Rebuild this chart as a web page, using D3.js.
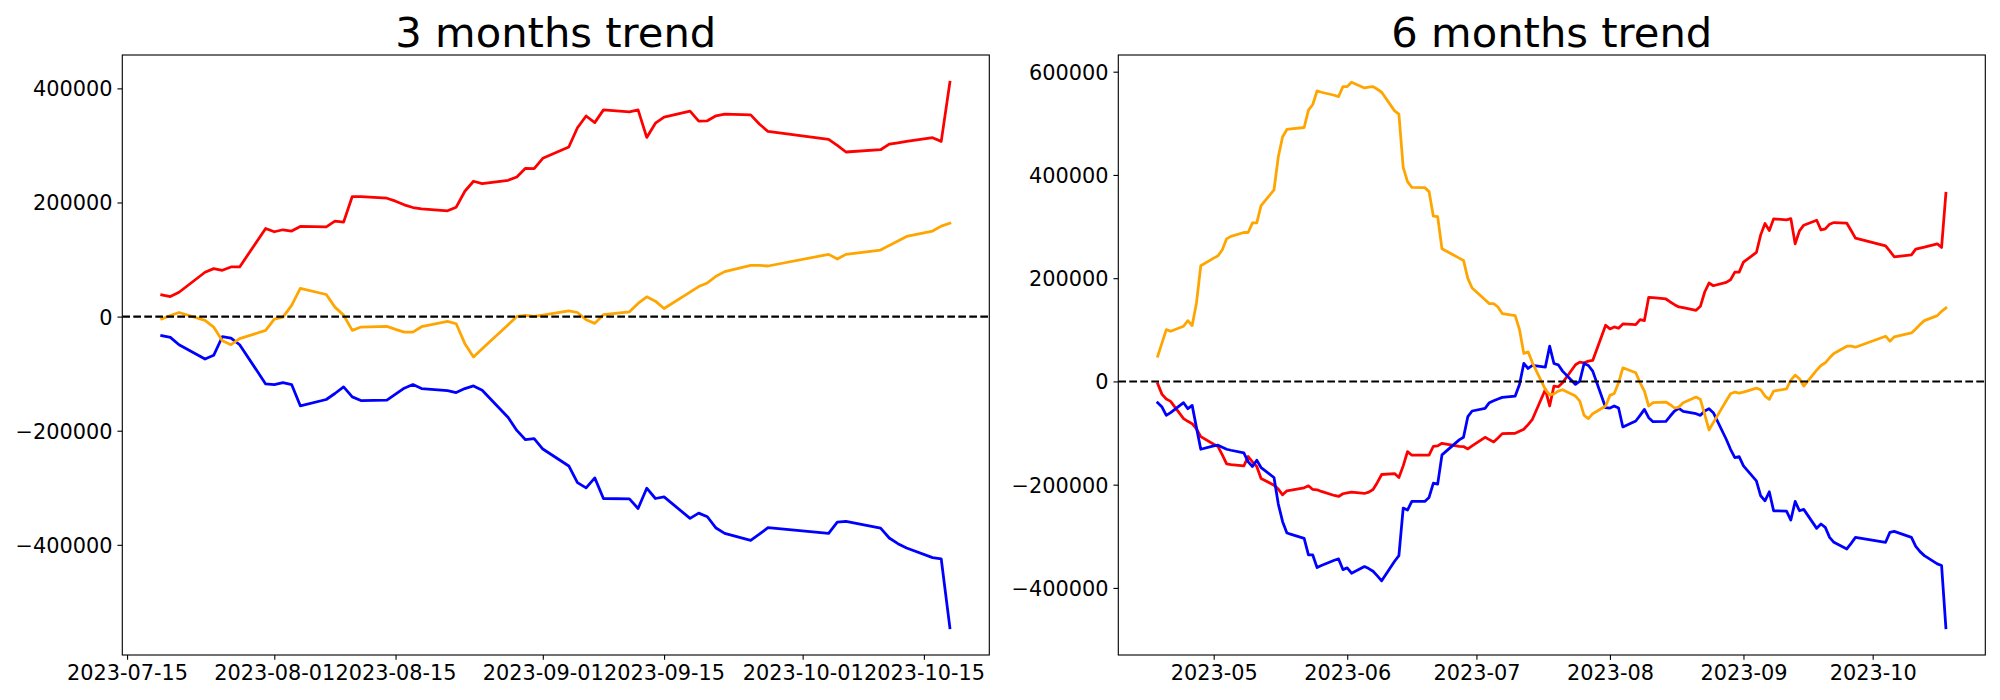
<!DOCTYPE html>
<html><head><meta charset="utf-8">
<script src="https://cdn.jsdelivr.net/npm/d3@7"></script>
<style>
body{margin:0;background:#fff}
svg{display:block;background:#fff}
text{font-family:"DejaVu Sans",sans-serif;fill:#000}
</style>
</head><body>
<svg id="chart" width="2000" height="700"></svg>
<script>
// ---------- 3 months panel ----------
const dates3 = ["2023-07-19","2023-07-20","2023-07-21","2023-07-24","2023-07-25","2023-07-26","2023-07-27","2023-07-28","2023-07-31","2023-08-01","2023-08-02","2023-08-03","2023-08-04","2023-08-07","2023-08-08","2023-08-09","2023-08-10","2023-08-11","2023-08-14","2023-08-15","2023-08-16","2023-08-17","2023-08-18","2023-08-21","2023-08-22","2023-08-23","2023-08-24","2023-08-25","2023-08-28","2023-08-29","2023-08-30","2023-08-31","2023-09-01","2023-09-04","2023-09-05","2023-09-06","2023-09-07","2023-09-08","2023-09-11","2023-09-12","2023-09-13","2023-09-14","2023-09-15","2023-09-18","2023-09-19","2023-09-20","2023-09-21","2023-09-22","2023-09-25","2023-09-26","2023-09-27","2023-10-04","2023-10-05","2023-10-06","2023-10-10","2023-10-11","2023-10-12","2023-10-13","2023-10-16","2023-10-17","2023-10-18"];
const red3 = [38.1,35.2,42.7,77.7,84.1,81.2,87.0,87.0,154.5,148.7,152.2,149.9,158.0,157.4,167.3,165.6,210.4,210.4,207.5,202.3,195.9,191.2,188.9,185.4,191.8,219.7,237.2,233.1,238.9,244.8,259.9,259.3,277.4,297.2,330.9,351.6,340.0,362.3,358.8,362.3,314.0,339.0,349.5,360.0,342.6,343.2,351.9,354.8,353.6,337.5,324.5,310.6,300.1,288.5,292.5,302.4,304.7,307.1,313.5,307.1,410.7];
const blue3 = [-33.5,-36.4,-49.3,-74.3,-67.9,-35.3,-37.6,-49.3,-118.0,-119.1,-115.6,-119.1,-156.4,-145.3,-134.8,-123.2,-140.7,-147.1,-146.5,-136.0,-125.5,-119.1,-126.1,-129.6,-133.1,-126.1,-121.5,-129.0,-176.8,-199.5,-215.8,-214.0,-232.1,-261.8,-290.9,-300.2,-282.7,-318.8,-319.4,-336.3,-300.8,-318.8,-315.9,-353.7,-344.4,-350.8,-370.6,-379.9,-392.2,-381.4,-370.0,-379.9,-360.1,-359.0,-370.6,-388.1,-398.0,-405.6,-422.5,-424.8,-545.3];
const orange3 = [-4.3,2.0,7.2,-6.6,-18.3,-42.2,-49.2,-38.7,-24.2,-4.3,-0.9,19.6,49.3,38.7,16.6,2.6,-24.2,-18.3,-17.2,-22.4,-27.1,-27.1,-17.7,-8.4,-12.5,-47.4,-70.7,-56.4,-14.3,0.2,2.0,0.2,2.6,10.2,7.2,-5.5,-11.9,3.3,8.4,23.1,34.7,27.1,14.2,42.8,52.6,59.0,70.7,78.8,89.9,89.9,88.7,109.1,100.9,109.1,116.6,124.8,132.4,140.5,149.9,158.6,163.8];
const xTicks3 = ["2023-07-15","2023-08-01","2023-08-15","2023-09-01","2023-09-15","2023-10-01","2023-10-15"];
const yTicks3 = [-400000,-200000,0,200000,400000];

// ---------- 6 months panel ----------
const dates6 = ["2023-04-18","2023-04-19","2023-04-20","2023-04-21",
"2023-04-24","2023-04-25","2023-04-26","2023-04-27","2023-04-28",
"2023-05-01","2023-05-02","2023-05-03","2023-05-04","2023-05-05",
"2023-05-08","2023-05-09","2023-05-10","2023-05-11","2023-05-12",
"2023-05-15","2023-05-16","2023-05-17","2023-05-18","2023-05-19",
"2023-05-22","2023-05-23","2023-05-24","2023-05-25","2023-05-26",
"2023-05-29","2023-05-30","2023-05-31","2023-06-01","2023-06-02",
"2023-06-05","2023-06-06","2023-06-07","2023-06-08","2023-06-09",
"2023-06-12","2023-06-13","2023-06-14","2023-06-15","2023-06-16",
"2023-06-19","2023-06-20","2023-06-21","2023-06-22","2023-06-23",
"2023-06-26","2023-06-27","2023-06-28","2023-06-29","2023-06-30",
"2023-07-03","2023-07-04","2023-07-05","2023-07-06","2023-07-07",
"2023-07-10","2023-07-11","2023-07-12","2023-07-13","2023-07-14",
"2023-07-17","2023-07-18","2023-07-19","2023-07-20","2023-07-21",
"2023-07-24","2023-07-25","2023-07-26","2023-07-27","2023-07-28",
"2023-07-31","2023-08-01","2023-08-02","2023-08-03","2023-08-04",
"2023-08-07","2023-08-08","2023-08-09","2023-08-10","2023-08-11",
"2023-08-14","2023-08-15","2023-08-16","2023-08-17","2023-08-18",
"2023-08-21","2023-08-22","2023-08-23","2023-08-24","2023-08-25",
"2023-08-28","2023-08-29","2023-08-30","2023-08-31","2023-09-01",
"2023-09-04","2023-09-05","2023-09-06","2023-09-07","2023-09-08",
"2023-09-11","2023-09-12","2023-09-13","2023-09-14","2023-09-15",
"2023-09-18","2023-09-19","2023-09-20","2023-09-21","2023-09-22",
"2023-09-25","2023-09-26","2023-09-27",
"2023-10-04","2023-10-05","2023-10-06",
"2023-10-10","2023-10-11","2023-10-12","2023-10-13",
"2023-10-16","2023-10-17","2023-10-18"];
const red6 = [-4.5,-25.1,-34.1,-38.6,
-72.1,-77.3,-81.8,-92.1,-106.9,
-121.7,-126.2,-142.3,-159.7,-161.0,
-163.6,-145.5,-155.8,-164.8,-188.0,
-200.9,-208.6,-219.6,-211.8,-210.6,
-206.0,-202.2,-209.3,-209.9,-213.1,
-220.9,-222.8,-217.6,-215.7,-214.4,
-217.0,-214.4,-209.3,-195.7,-180.3,
-178.4,-186.1,-163.6,-135.9,-142.9,
-142.9,-142.9,-125.6,-124.9,-119.8,
-124.3,-125.6,-126.2,-130.7,-124.9,
-108.2,-112.7,-117.2,-109.5,-101.1,
-100.4,-96.6,-92.7,-83.7,-73.4,
-15.5,-47.6,-9.0,-10.3,-2.6,
32.2,37.3,36.1,39.3,40.6,
108.8,101.7,105.6,103.0,111.4,
110.1,119.8,117.8,162.9,162.3,
159.7,153.9,148.7,144.2,142.9,
137.8,145.5,173.2,190.6,185.4,
191.9,197.0,211.8,211.8,231.2,
249.8,283.9,305.9,292.3,314.9,
312.9,315.5,266.6,291.7,302.6,
312.3,293.6,295.5,304.6,307.8,
306.5,292.3,277.5,
262.7,252.4,241.5,
245.3,256.3,258.2,260.1,
266.6,259.5,364.4];
const blue6 = [-41.2,-49.6,-65.7,-60.5,
-41.2,-52.8,-46.4,-89.5,-131.4,
-124.9,-123.6,-127.5,-131.4,-133.3,
-138.4,-155.8,-164.8,-152.6,-166.8,
-186.1,-237.6,-271.7,-293.6,-296.2,
-303.9,-336.1,-336.1,-360.6,-356.7,
-346.4,-343.8,-364.5,-361.2,-371.5,
-358.7,-362.5,-367.7,-376.7,-386.3,
-348.3,-337.4,-245.3,-249.2,-232.5,
-232.5,-224.7,-197.0,-199.0,-142.3,
-120.4,-113.3,-108.2,-68.3,-57.3,
-52.2,-41.2,-37.3,-34.1,-30.9,
-28.3,-5.8,34.8,25.1,30.9,
27.7,68.3,34.8,32.2,20.0,
-5.8,0.6,34.8,30.9,20.0,
-50.9,-51.5,-47.6,-51.5,-88.2,
-76.6,-65.7,-54.1,-70.2,-77.9,
-77.3,-67.0,-57.3,-52.2,-58.0,
-62.5,-65.7,-57.3,-52.8,-60.5,
-112.0,-131.4,-147.5,-145.5,-163.6,
-192.5,-221.5,-231.2,-213.8,-250.5,
-251.1,-268.5,-232.5,-250.5,-247.9,
-284.6,-276.2,-282.7,-302.0,-311.6,
-324.5,-313.6,-302.0,
-311.6,-292.3,-290.4,
-302.0,-319.4,-329.7,-337.4,
-353.5,-356.7,-477.1];
const orange6 = [48.9,74.7,100.4,97.2,
106.9,117.8,108.2,152.0,224.1,
238.9,243.4,255.0,276.2,281.0,
288.5,288.5,307.1,307.1,340.6,
370.9,435.3,473.9,488.1,489.4,
491.9,525.4,536.4,562.8,560.2,
554.4,551.8,571.1,571.1,579.5,
568.6,569.9,571.1,566.0,560.2,
524.1,517.7,414.7,387.0,376.0,
375.4,367.7,320.0,319.4,256.9,
243.4,238.9,234.4,199.6,180.9,
158.4,150.7,150.7,144.2,131.4,
127.5,100.4,54.1,57.3,36.1,
-15.5,-26.0,-24.0,-18.7,-16.1,
-28.3,-38.0,-65.7,-72.1,-62.5,
-47.6,-27.0,-23.2,-2.6,26.4,
16.7,-2.6,-18.7,-47.6,-41.2,
-39.9,-45.1,-51.5,-49.6,-41.2,
-30.3,-34.8,-63.7,-94.0,-79.8,
-37.3,-23.8,-20.6,-22.5,-20.6,
-12.9,-16.1,-28.3,-34.8,-18.7,
-14.2,2.6,12.2,5.2,-9.0,
21.9,30.9,36.1,45.7,54.1,
68.3,68.3,66.3,
87.6,77.9,86.3,
94.0,101.7,110.1,117.8,
127.5,135.9,142.3];
const xTicks6 = ["2023-05-01","2023-06-01","2023-07-01","2023-08-01","2023-09-01","2023-10-01"];
const yTicks6 = [-400000,-200000,0,200000,400000,600000];

const seriesColors = ["red","blue","orange"];
const valueUnit = 1000; // values above are in thousands

// ---------- drawing ----------
const svg = d3.select("#chart");
const parse = d3.utcParse("%Y-%m-%d");
const PT = 100/72;
const tickFont = 15*PT, titleFont = 30*PT;

function panel(cfg){
  const {left,right,top,bottom,dates,series,xTicks,yTicks,xFmt,title} = cfg;
  const ds = dates.map(parse);
  const t0 = d3.min(ds), t1 = d3.max(ds), tp = (t1 - t0)*0.05;
  const x = d3.scaleUtc().domain([new Date(+t0 - tp), new Date(+t1 + tp)]).range([left,right]);
  const all = series.flat().map(v=>v*valueUnit);
  const v0 = d3.min(all), v1 = d3.max(all), vp = (v1 - v0)*0.05;
  const y = d3.scaleLinear().domain([v0 - vp, v1 + vp]).range([bottom, top]);

  const g = svg.append("g");
  const clipId = "clip" + Math.round(left);
  g.append("clipPath").attr("id",clipId).append("rect")
    .attr("x",left).attr("y",top).attr("width",right-left).attr("height",bottom-top);

  const plot = g.append("g").attr("clip-path",`url(#${clipId})`);
  const line = d3.line().x((d,i)=>x(ds[i])).y(d=>y(d*valueUnit));
  series.forEach((s,k)=>{
    plot.append("path").datum(s).attr("d",line)
      .attr("fill","none").attr("stroke",seriesColors[k])
      .attr("stroke-width",2*PT).attr("stroke-linejoin","round").attr("stroke-linecap","square");
  });
  plot.append("line").attr("x1",left).attr("x2",right).attr("y1",y(0)).attr("y2",y(0))
    .attr("stroke","#000").attr("stroke-width",1.5*PT).attr("stroke-dasharray","7.7,3.3");

  const tl = 3.5*PT, pad = 3.5*PT;
  const xa = g.append("g").attr("transform",`translate(0,${bottom})`)
    .call(d3.axisBottom(x).tickValues(xTicks.map(parse)).tickFormat(d3.utcFormat(xFmt))
      .tickSize(tl).tickPadding(pad));
  const ya = g.append("g").attr("transform",`translate(${left},0)`)
    .call(d3.axisLeft(y).tickValues(yTicks).tickFormat(d3.format("d"))
      .tickSize(tl).tickPadding(pad));
  [xa,ya].forEach(a=>{
    a.select(".domain").remove();
    a.selectAll(".tick line").attr("stroke","#000").attr("stroke-width",0.8*PT);
    a.selectAll(".tick text").attr("font-size",tickFont).attr("font-family","DejaVu Sans").attr("fill","#000");
  });
  ya.selectAll(".tick text").attr("dy","0.36em");
  xa.selectAll(".tick text").attr("dy","0.72em");

  g.append("rect").attr("x",left).attr("y",top).attr("width",right-left).attr("height",bottom-top)
    .attr("fill","none").attr("stroke","#000").attr("stroke-width",0.8*PT);

  g.append("text").attr("x",(left+right)/2).attr("y",top - 6*PT)
    .attr("text-anchor","middle").attr("font-size",titleFont).text(title);
}

panel({left:122.3,right:989.3,top:55,bottom:655,dates:dates3,series:[red3,blue3,orange3],
  xTicks:xTicks3,yTicks:yTicks3,xFmt:"%Y-%m-%d",title:"3 months trend"});
panel({left:1118.3,right:1985.3,top:55,bottom:655,dates:dates6,series:[red6,blue6,orange6],
  xTicks:xTicks6,yTicks:yTicks6,xFmt:"%Y-%m",title:"6 months trend"});
</script>
</body></html>
